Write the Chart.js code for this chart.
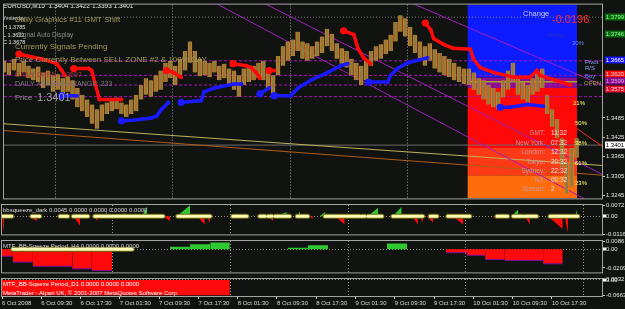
<!DOCTYPE html>
<html>
<head>
<meta charset="utf-8">
<script src="https://cdn.jsdelivr.net/npm/chart.js@4.4.1/dist/chart.umd.min.js"></script>
<style>
  html, body { margin: 0; padding: 0; background: #101310; overflow: hidden; }
  #wrap { position: relative; width: 625px; height: 309px; background: #101310; }
  canvas { position: absolute; left: 0; }
</style>
</head>
<body>
<div id="wrap">
  <canvas id="main" width="625" height="203" style="top:0px"></canvas>
  <canvas id="sq" width="625" height="40" style="top:199px"></canvas>
  <canvas id="h4" width="625" height="42" style="top:235px"></canvas>
  <canvas id="d1" width="625" height="36" style="top:273px"></canvas>
</div>
<script>
'use strict';

// x values are hours counted from 6 Oct 2008 01:30
const X_MAX = 122.2;
const labelHours = [0, 8, 16, 24, 32, 40, 48, 56, 64, 72, 80, 88, 96, 104, 112];
const labelTexts = ['6 Oct 2008', '6 Oct 09:30', '6 Oct 17:30', '7 Oct 01:30', '7 Oct 09:30',
  '7 Oct 17:30', '8 Oct 01:30', '8 Oct 09:30', '8 Oct 17:30', '9 Oct 01:30', '9 Oct 09:30',
  '9 Oct 17:30', '10 Oct 01:30', '10 Oct 09:30', '10 Oct 17:30'];
const midnightHours = [22.5, 46.5, 70.5, 94.5, 118.5];

// price panel
const PRICE_MIN = 1.3236;
const PRICE_MAX = 1.3836;
const priceTicks = [1.3245, 1.3305, 1.3365, 1.3425, 1.3485];
const currentPrice = 1.3401;

// hourly high / low, one bar per hour
const candleHigh = [1.3662,1.3656,1.3668,1.3656,1.3662,1.3647,1.3638,1.3644,1.3626,1.3632,
  1.3617,1.3620,1.3608,1.3614,1.3602,1.3578,1.3557,1.3542,1.3527,1.3512,
  1.3527,1.3533,1.3542,1.3548,1.3533,1.3527,1.3542,1.3557,1.3587,1.3608,
  1.3602,1.3617,1.3632,1.3656,1.3662,1.3647,1.3668,1.3692,1.3722,1.3692,
  1.3668,1.3662,1.3656,1.3662,1.3647,1.3653,1.3638,1.3632,1.3617,1.3638,
  1.3641,1.3647,1.3656,1.3662,1.3638,1.3617,1.3677,1.3707,1.3722,1.3728,
  1.3752,1.3722,1.3716,1.3707,1.3722,1.3737,1.3761,1.3746,1.3716,1.3701,
  1.3692,1.3668,1.3656,1.3647,1.3662,1.3692,1.3707,1.3713,1.3728,1.3743,
  1.3782,1.3803,1.3794,1.3767,1.3743,1.3722,1.3707,1.3716,1.3698,1.3686,
  1.3677,1.3668,1.3656,1.3644,1.3638,1.3638,1.3626,1.3608,1.3602,1.3587,
  1.3578,1.3566,1.3602,1.3632,1.3656,1.3608,1.3596,1.3587,1.3608,1.3626,
  1.3638,1.3557,1.3512,1.3482,1.3422,1.3347,1.3392,1.3422];
const candleLow = [1.3626,1.3617,1.3632,1.3614,1.3626,1.3608,1.3602,1.3596,1.3578,1.3587,
  1.3566,1.3572,1.3557,1.3566,1.3542,1.3518,1.3506,1.3488,1.3467,1.3452,
  1.3476,1.3497,1.3506,1.3512,1.3497,1.3488,1.3497,1.3506,1.3542,1.3557,
  1.3551,1.3566,1.3572,1.3596,1.3608,1.3587,1.3617,1.3632,1.3656,1.3626,
  1.3614,1.3617,1.3611,1.3626,1.3602,1.3608,1.3587,1.3572,1.3551,1.3587,
  1.3596,1.3602,1.3608,1.3602,1.3578,1.3551,1.3617,1.3647,1.3662,1.3677,
  1.3692,1.3668,1.3662,1.3668,1.3677,1.3686,1.3707,1.3692,1.3668,1.3653,
  1.3641,1.3617,1.3602,1.3587,1.3602,1.3647,1.3662,1.3668,1.3683,1.3692,
  1.3722,1.3752,1.3737,1.3707,1.3686,1.3668,1.3647,1.3662,1.3638,1.3626,
  1.3617,1.3611,1.3602,1.3596,1.3590,1.3587,1.3572,1.3557,1.3542,1.3527,
  1.3518,1.3512,1.3548,1.3572,1.3596,1.3557,1.3542,1.3533,1.3557,1.3566,
  1.3578,1.3497,1.3458,1.3422,1.3332,1.3251,1.3272,1.3362];

// trailing stop dots, null breaks a segment
const redHours = [3.05,5.7,7.74,10.8,11.8,12.4, null, 14.25,17.3,17.9,19.5,24.0, null,
  33.2,34.6,36.2, null, 46.8,49.5,50.5,51.5,52.3, null, 54.2,55.2, null,
  69.4,71.5,72.3,73.5,74.9, null,
  86.1,87.2,87.8,89.8,91.8,95.3,95.9,97.3,100.0,104.1,107.5,108.9,109.5,112.6,115.7];
const redPrices = [1.3683,1.3674,1.3668,1.3653,1.3632,1.3617, null, 1.3638,1.3638,1.3632,1.3542,1.3542, null,
  1.3632,1.3626,1.3611, null, 1.3653,1.3647,1.3641,1.3626,1.3608, null, 1.3632,1.3632, null,
  1.3755,1.3743,1.3701,1.3671,1.3653, null,
  1.3779,1.3758,1.3731,1.3713,1.3701,1.3698,1.3668,1.3641,1.3626,1.3611,1.3611,1.3632,1.3617,1.3602,1.3587];
const blueHours = [11.8,14.9, null, 24.0,26.7,30.1,31.2,32.2,33.6, null,
  36.2,40.3,40.9,43.0,47.0,48.5, null, 52.3,54.2, null,
  55.2,58.6,60.1,62.7,66.2,68.8,70.2, null, 74.5,78.4,79.0,80.4,82.5,86.5, null,
  101.4,103.4,106.9,110.2];
const bluePrices = [1.3554,1.3554, null, 1.3476,1.3479,1.3485,1.3491,1.3512,1.3533, null,
  1.3533,1.3539,1.3566,1.3578,1.3590,1.3590, null, 1.3560,1.3578, null,
  1.3554,1.3554,1.3578,1.3602,1.3626,1.3647,1.3653, null, 1.3596,1.3596,1.3617,1.3638,1.3656,1.3671, null,
  1.3518,1.3518,1.3527,1.3521];

// daily zone boxes on the right
const zoneStart = 94.7;
const zoneEnd = 117.1;
const bandTops = [1.3850, 1.3611, 1.3578, 1.3392, 1.3308];
const bandBottoms = [1.3611, 1.3578, 1.3392, 1.3308, 1.3230];
const openLevel = 1.3597;

// pivot levels
const dashedLevels = [1.3662, 1.3617, 1.3587, 1.3551];
const dottedLevel = 1.3797;
const boxLevels = [1.3799, 1.3746, 1.3665, 1.3620, 1.3599, 1.3575];

// trend / channel lines
const trendFromH = [43.0, 52.9, 83.1, 0, 0, 117.1];
const trendFromP = [1.3842, 1.3842, 1.3842, 1.3467, 1.3446, 1.3452];
const trendToH = [122.2, 122.2, 122.2, 122.2, 122.2, 122.2];
const trendToP = [1.3206, 1.3311, 1.3587, 1.3338, 1.3308, 1.3398];

// bbsqueeze_dark
const sqTicks = [0.0072, 0, -0.0116];
const sqGreenStart = [20.97,24.4,28.5,35.6,51.1,53.1,56.0,60.1,64.7,74.5,79.6,90.6,103.8,116.7];
const sqGreenEnd = [21.4,25.0,29.5,38.3,51.3,53.3,58.0,60.7,65.8,76.6,81.4,90.8,105.1,117.1];
const sqGreenPeak = [0.0031,0.0026,0.0060,0.0071,0.0010,0.0010,0.0026,0.0031,0.0026,0.0054,0.0060,0.0026,0.0043,0.0043];
const sqRedStart = [0,5.3,14.5,18.5,26.5,32.8,39.7,41.7,47.9,54.2,62.7,67.8,83.5,85.1,86.5,91.8,100.0,106.5,111.2,114.6];
const sqRedEnd = [0.4,7.1,15.9,19.5,27.1,34.2,41.3,42.4,48.5,55.2,63.3,69.8,84.7,85.7,87.8,93.9,100.8,107.5,114.2,115.3];
const sqRedPeak = [-0.0111,-0.0031,-0.0060,-0.0031,-0.0020,-0.0031,-0.0054,-0.0043,-0.0020,-0.0031,
  -0.0020,-0.0054,-0.0054,-0.0043,-0.0043,-0.0054,-0.0020,-0.0054,-0.0083,-0.0111];
const squeezeStart = [0,6.1,11.8,14.5,18.9,35.8,47.0,52.5,54.2,55.6,60.1,65.8,73.3,74.5,79.6,87.2,90.8,100.8,104.1,106.5,111.6];
const squeezeEnd = [2.0,7.7,13.4,17.5,32.8,42.4,49.9,53.6,55.0,58.6,62.3,72.9,73.9,77.4,85.7,88.6,95.3,103.0,106.1,108.9,117.3];

// MTF_BB-Sqeeze Period_H4
const h4Ticks = [0.0086, 0, -0.0209];
const h4Start = [0,2.2,6.3,14.3,18.3, 34.2,38.3,42.4, 58.2,62.3, 78.4, 90.4,94.7,98.4,102.4,110.2];
const h4End = [2.2,6.3,14.3,18.3,22.4, 38.3,42.4,46.4, 62.3,66.4, 82.5, 94.7,98.4,102.4,110.2,114.2];
const h4Value = [-0.0077,-0.0144,-0.0191,-0.0220,-0.0240, 0.0029,0.0058,0.0077, 0.0019,0.0045, 0.0067,
  -0.0038,-0.0067,-0.0115,-0.0125,-0.0163];
const h4SqueezeStart = [2.2];
const h4SqueezeEnd = [26.5];

// MTF_BB-Sqeeze Period_D1
const d1Ticks = [0.0032, 0, -0.0663];
const d1Start = [0];
const d1End = [46.4];
const d1Value = [-0.0663];

const FONT = "'Liberation Sans', Arial, sans-serif";
const font = (size) => size + 'px ' + FONT;

function xGridAxis() {
  return {
    type: 'linear', min: 0, max: X_MAX, offset: false,
    afterBuildTicks: (s) => { s.ticks = midnightHours.map((v) => ({ value: v })); },
    afterFit: (s) => { s.height = 0; },
    ticks: { display: false },
    grid: { color: '#9a9a9a', lineWidth: 1, drawTicks: false },
    border: { display: false, dash: [1, 2] }
  };
}

function yAxis(min, max, ticks, fmt, zeroLine) {
  return {
    position: 'right', min: min, max: max,
    afterBuildTicks: (s) => { s.ticks = ticks.map((v) => ({ value: v })); },
    afterFit: (s) => { s.width = 23; },
    ticks: { color: '#e4e4e4', font: { family: FONT, size: 6 }, padding: 1, autoSkip: false, callback: fmt },
    grid: {
      drawOnChartArea: zeroLine,
      color: (c) => (zeroLine && c.tick && c.tick.value === 0 ? '#8c8c8c' : 'rgba(0,0,0,0)'),
      tickColor: '#c8c8c8', tickLength: 3
    },
    border: { display: false, dash: [1, 2] }
  };
}

const subFmt = (v) => (v === 0 ? '0.00' : v.toFixed(4));

function baseOptions(padTop, padBottom, scales) {
  return {
    responsive: false, animation: false, events: [],
    layout: { padding: { left: 2, right: 0, top: padTop, bottom: padBottom } },
    plugins: { legend: { display: false }, tooltip: { enabled: false } },
    elements: { point: { radius: 0 }, line: { tension: 0 } },
    scales: scales
  };
}

function drawTexts(ctx, list) {
  ctx.textBaseline = 'middle';
  list.forEach((t) => {
    ctx.font = t.f;
    ctx.fillStyle = t.c;
    ctx.textAlign = t.a || 'left';
    ctx.fillText(t.t, t.x, t.y);
  });
}

function frame(chart) {
  const a = chart.chartArea;
  const ctx = chart.ctx;
  ctx.strokeStyle = '#a4a4a4';
  ctx.lineWidth = 1;
  ctx.strokeRect(a.left - 0.5, a.top - 0.5, a.right - a.left + 1, a.bottom - a.top + 1);
}

function zeroMarker(chart) {
  const y = chart.scales.y.getPixelForValue(0);
  chart.ctx.fillStyle = '#ffffff';
  chart.ctx.fillRect(chart.chartArea.right + 1, Math.round(y) - 1.5, 3, 3);
}

// segment helpers
function segmentPoints(hours, prices) {
  const pts = [];
  let last = 0;
  hours.forEach((h, i) => {
    if (h === null) { pts.push({ x: last, y: null }); }
    else { pts.push({ x: h, y: prices[i] }); last = h; }
  });
  return pts;
}
function rampPoints(starts, ends, peaks) {
  const pts = [];
  starts.forEach((s, i) => {
    pts.push({ x: s, y: 0 }, { x: ends[i], y: peaks[i] }, { x: ends[i], y: 0 }, { x: ends[i], y: null });
  });
  return pts;
}
function blockPoints(starts, ends, values, keep) {
  const pts = [];
  starts.forEach((s, i) => {
    if (!keep(values[i])) return;
    pts.push({ x: s, y: values[i] }, { x: ends[i], y: values[i] }, { x: ends[i], y: null });
  });
  return pts;
}
function flatPoints(starts, ends) {
  const pts = [];
  starts.forEach((s, i) => { pts.push({ x: s, y: 0 }, { x: ends[i], y: 0 }, { x: ends[i], y: null }); });
  return pts;
}
function squeezeSets(pts) {
  return [
    { data: pts, borderColor: '#6e6a10', borderWidth: 5, borderCapStyle: 'round', order: 2 },
    { data: pts, borderColor: '#fdfcb4', borderWidth: 3, borderCapStyle: 'round', order: 1 }
  ];
}

/* ---------------- main price panel ---------------- */
const BAND_COLORS = ['#0c1cff', '#8c0c92', '#ff0808', '#ff3a16', '#ff6c0c'];
const mainSets = [];
bandTops.forEach((top, i) => {
  mainSets.push({
    data: [{ x: zoneStart, y: top }, { x: zoneEnd, y: top }],
    fill: { value: bandBottoms[i] }, backgroundColor: BAND_COLORS[i],
    borderColor: 'rgba(0,0,0,0)', borderWidth: 1, order: 50
  });
});
dashedLevels.forEach((p) => {
  mainSets.push({ data: [{ x: 0, y: p }, { x: X_MAX, y: p }], borderColor: '#a214b4', borderWidth: 1, borderDash: [3, 2], order: 40 });
});
mainSets.push({ data: [{ x: 0, y: dottedLevel }, { x: X_MAX, y: dottedLevel }], borderColor: '#7c7c7c', borderWidth: 1, borderDash: [1, 2], order: 40 });
mainSets.push({ data: [{ x: 0, y: currentPrice }, { x: X_MAX, y: currentPrice }], borderColor: '#6c6c6c', borderWidth: 1, order: 40 });
mainSets.push({ data: [{ x: zoneStart, y: openLevel }, { x: zoneEnd, y: openLevel }], borderColor: '#a4a82a', borderWidth: 1.5, order: 35 });

const TREND_STYLE = [
  { c: '#a21cc0', d: [] }, { c: '#a21cc0', d: [] }, { c: '#a21cc0', d: [] },
  { c: '#bcb45c', d: [] }, { c: '#b05c16', d: [] }, { c: '#ff2020', d: [] }
];
trendFromH.forEach((h, i) => {
  mainSets.push({
    data: [{ x: h, y: trendFromP[i] }, { x: trendToH[i], y: trendToP[i] }],
    borderColor: TREND_STYLE[i].c, borderDash: TREND_STYLE[i].d, borderWidth: 1, order: 30
  });
});

mainSets.push({
  type: 'bar',
  data: candleHigh.map((h, i) => ({ x: i, y: [candleLow[i], h] })),
  backgroundColor: '#8e7c3c', borderColor: '#d47a2a', borderWidth: { left: 1, right: 1, top: 0, bottom: 0 },
  borderSkipped: false, barThickness: 4, order: 20
});

function stopDots(hours, prices, color) {
  return {
    data: segmentPoints(hours, prices),
    borderColor: color, borderWidth: 3.5, borderCapStyle: 'round',
    pointBackgroundColor: color, pointBorderWidth: 0,
    pointRadius: (c) => (c.dataIndex === 0 || prices[c.dataIndex - 1] === null ? 3.6 : 2),
    order: 10
  };
}
mainSets.push(stopDots(redHours, redPrices, '#ff0a0a'));
mainSets.push(stopDots(blueHours, bluePrices, '#1a1aff'));

const BOX_STYLE = [
  { bg: '#0d6a10', fg: '#8cff8c' }, { bg: '#0d6a10', fg: '#8cff8c' }, { bg: '#1414ff', fg: '#ffffff' },
  { bg: '#ff0a0a', fg: '#ffd0d0' }, { bg: '#8a0a90', fg: '#e0a0e0' }, { bg: '#e00a2a', fg: '#ffd0d0' }
];

const mainTexts = [
  { t: 'EURUSD,M15  1.3404 1.3422 1.3393 1.3401', x: 3, y: 6, c: '#e8e8e8', f: font(6.5) },
  { t: 'Yesterday', x: 3, y: 19, c: '#d0d0d0', f: font(5) },
  { t: 'H 1.3785', x: 3, y: 27, c: '#e0e0e0', f: font(5.5) },
  { t: 'L 1.3622', x: 3, y: 35, c: '#e0e0e0', f: font(5.5) },
  { t: 'C 1.3678', x: 3, y: 42, c: '#e0e0e0', f: font(5.5) },
  { t: 'Daily Graphics #11 GMT Shift', x: 15, y: 20, c: '#a09b5c', f: font(8) },
  { t: 'Signal Auto Display', x: 17, y: 35, c: '#8c8c8c', f: font(6.5) },
  { t: 'Currently Signals Pending', x: 15, y: 47, c: '#a09b5c', f: font(8) },
  { t: 'Price Currently Between SELL ZONE #2 & 100% DAY', x: 15, y: 60, c: '#a09b5c', f: font(8) },
  { t: 'DAILY OPEN: 1.3597', x: 15, y: 75, c: '#9c3a3a', f: font(7) },
  { t: 'DAILY AVERAGE RANGE: 233', x: 15, y: 84, c: '#7c7c7c', f: font(7) },
  { t: 'Price', x: 15, y: 98, c: '#8c8c8c', f: font(7.5) },
  { t: '1.3401', x: 37, y: 98, c: '#a0a0a0', f: font(11) },
  { t: 'Change', x: 523, y: 14, c: '#c8c8ff', f: font(7.5) },
  { t: '-0.0196', x: 552, y: 20, c: '#ff2a2a', f: font(11) },
  { t: 'Range', x: 548, y: 35, c: '#3030b8', f: font(6) },
  { t: '30%', x: 572, y: 43, c: '#6a86ff', f: font(6) },
  { t: 'Pivot', x: 585, y: 62, c: '#8ca0ff', f: font(6) },
  { t: 'R/S', x: 585, y: 68, c: '#8ca0ff', f: font(6) },
  { t: 'Buy', x: 585, y: 76, c: '#6a84ff', f: font(6) },
  { t: 'OPEN', x: 584, y: 83, c: '#a4a040', f: font(6) },
  { t: '21%', x: 573, y: 103, c: '#ffff70', f: font(6) },
  { t: '50%', x: 575, y: 123, c: '#ffff70', f: font(6) },
  { t: '38%', x: 575, y: 143, c: '#ffff70', f: font(6) },
  { t: '61%', x: 575, y: 163, c: '#ffff70', f: font(6) },
  { t: '23%', x: 575, y: 183, c: '#ffff70', f: font(6) }
];
const clockLabels = ['GMT:', 'New York:', 'London:', 'Tokyo:', 'Sydney:', 'NZ:', 'Spread:'];
const clockValues = ['11:32', '07:32', '12:32', '20:32', '22:32', '00:32', '2'];
const clockRows = [133, 143, 152, 162, 171, 180, 189];
clockLabels.forEach((l, i) => {
  mainTexts.push({ t: l, x: 545, y: clockRows[i], c: '#c89898', f: font(6.5), a: 'right' });
  mainTexts.push({ t: clockValues[i], x: 551, y: clockRows[i], c: '#f0e0e0', f: font(6.5) });
});

new Chart(document.getElementById('main'), {
  type: 'line',
  data: { datasets: mainSets },
  options: baseOptions(2, 1, {
    x: xGridAxis(),
    y: yAxis(PRICE_MIN, PRICE_MAX, priceTicks, (v) => v.toFixed(4), false)
  }),
  plugins: [{
    id: 'mainDeco',
    afterDraw(chart) {
      const ctx = chart.ctx;
      const a = chart.chartArea;
      const ys = chart.scales.y;
      ctx.save();
      frame(chart);
      ctx.beginPath();
      ctx.rect(a.left, a.top, a.right - a.left, a.bottom - a.top);
      ctx.clip();
      drawTexts(ctx, mainTexts);
      ctx.restore();
      ctx.save();
      ctx.textBaseline = 'middle';
      ctx.textAlign = 'center';
      ctx.font = font(6);
      boxLevels.forEach((p, i) => {
        const y = Math.round(ys.getPixelForValue(p));
        ctx.fillStyle = BOX_STYLE[i].bg;
        ctx.fillRect(a.right + 3, y - 3.5, 20, 7);
        ctx.fillStyle = BOX_STYLE[i].fg;
        ctx.fillText(p.toFixed(4), a.right + 13, y + 0.5);
      });
      const cy = Math.round(ys.getPixelForValue(currentPrice));
      ctx.fillStyle = '#ffffff';
      ctx.fillRect(a.right + 3, cy - 3.5, 20, 7);
      ctx.fillStyle = '#000000';
      ctx.fillText(currentPrice.toFixed(4), a.right + 13, cy + 0.5);
      ctx.restore();
    }
  }]
});

/* ---------------- bbsqueeze_dark ---------------- */
new Chart(document.getElementById('sq'), {
  type: 'line',
  data: {
    datasets: [
      { data: rampPoints(sqGreenStart, sqGreenEnd, sqGreenPeak), fill: 'origin', backgroundColor: '#30c830', borderColor: 'rgba(0,0,0,0)', borderWidth: 1, order: 5 },
      { data: rampPoints(sqRedStart, sqRedEnd, sqRedPeak), fill: 'origin', backgroundColor: '#ff0a0a', borderColor: 'rgba(0,0,0,0)', borderWidth: 1, order: 5 }
    ].concat(squeezeSets(flatPoints(squeezeStart, squeezeEnd)))
  },
  options: baseOptions(6, 1, { x: xGridAxis(), y: yAxis(-0.0118, 0.0072, sqTicks, subFmt, true) }),
  plugins: [{
    id: 'sqDeco',
    afterDraw(chart) {
      chart.ctx.save();
      frame(chart);
      zeroMarker(chart);
      drawTexts(chart.ctx, [{ t: 'bbsqueeze_dark 0.0045 0.0000 0.0000 0.0000 0.0000', x: 3, y: 11, c: '#d4d4d4', f: font(6) }]);
      chart.ctx.restore();
    }
  }]
});

/* ---------------- MTF H4 ---------------- */
new Chart(document.getElementById('h4'), {
  type: 'line',
  data: {
    datasets: [
      { data: blockPoints(h4Start, h4End, h4Value, (v) => v < 0), fill: 'origin', backgroundColor: '#ff0a0a', borderColor: '#7a10a0', borderWidth: 1, order: 5 },
      { data: blockPoints(h4Start, h4End, h4Value, (v) => v > 0), fill: 'origin', backgroundColor: '#30c830', borderColor: 'rgba(0,0,0,0)', borderWidth: 1, order: 5 }
    ].concat(squeezeSets(flatPoints(h4SqueezeStart, h4SqueezeEnd)))
  },
  options: baseOptions(6, 1, { x: xGridAxis(), y: yAxis(-0.026, 0.0094, h4Ticks, subFmt, true) }),
  plugins: [{
    id: 'h4Deco',
    afterDraw(chart) {
      chart.ctx.save();
      frame(chart);
      zeroMarker(chart);
      drawTexts(chart.ctx, [{ t: 'MTF_BB-Sqeeze Period_H4 0.0000 0.0000 0.0000', x: 3, y: 11, c: '#d4d4d4', f: font(6) }]);
      chart.ctx.restore();
    }
  }]
});

/* ---------------- MTF D1 + time axis ---------------- */
new Chart(document.getElementById('d1'), {
  type: 'line',
  data: {
    datasets: [
      { data: blockPoints(d1Start, d1End, d1Value, () => true), fill: 'origin', backgroundColor: '#ff0a0a', borderColor: 'rgba(0,0,0,0)', borderWidth: 1 }
    ]
  },
  options: baseOptions(6, 1, {
    x: xGridAxis(),
    x2: {
      type: 'linear', position: 'bottom', min: 0, max: X_MAX, offset: false,
      afterBuildTicks: (s) => { s.ticks = labelHours.map((v) => ({ value: v })); },
      afterFit: (s) => { s.height = 12; },
      ticks: {
        color: '#dcdcdc', font: { family: FONT, size: 6 }, align: 'start', autoSkip: false,
        maxRotation: 0, padding: 1, callback: (v, i) => labelTexts[i]
      },
      grid: { drawOnChartArea: false, tickLength: 3, tickColor: '#c8c8c8' },
      border: { display: false }
    },
    y: yAxis(-0.0700, 0.0040, d1Ticks, subFmt, true)
  }),
  plugins: [{
    id: 'd1Deco',
    afterDraw(chart) {
      chart.ctx.save();
      frame(chart);
      zeroMarker(chart);
      drawTexts(chart.ctx, [
        { t: 'MTF_BB-Sqeeze Period_D1 0.0000 0.0000 0.0000', x: 3, y: 11, c: '#ffffff', f: font(6) },
        { t: 'MetaTrader - Alpari UK, \u00a9 2001-2007 MetaQuotes Software Corp.', x: 3, y: 20, c: '#ffffff', f: font(6) }
      ]);
      chart.ctx.restore();
    }
  }]
});
</script>
</body>
</html>
